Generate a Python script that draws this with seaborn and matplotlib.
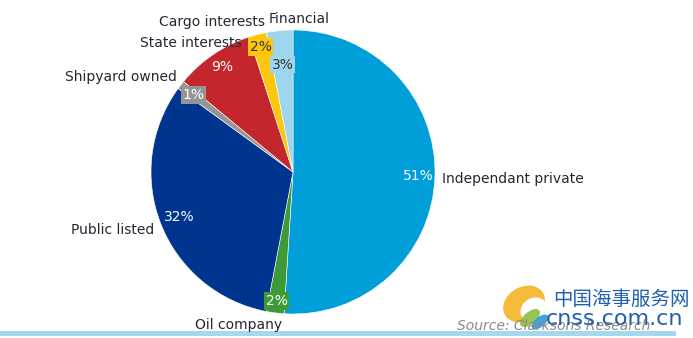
import matplotlib
matplotlib.use("Agg")
import matplotlib.pyplot as plt
import seaborn as sns
import numpy as np
from matplotlib.patches import Ellipse, Rectangle

# ---- data ----
categories = ["Independant private", "Oil company", "Public listed", "Shipyard owned",
              "State interests", "Cargo interests", "Financial"]
shares = [51, 2, 32, 1, 9, 2, 3]
pct_labels = ["51%", "2%", "32%", "1%", "9%", "2%", "3%"]

colors = ["#009FDA", "#3E9A37", "#00358F", "#959595", "#C4262E", "#FDC70C", "#9DD5EE"]
pct_colors = ["white", "white", "white", "white", "white", "#333333", "#333333"]
pct_box = [False, True, False, True, False, True, True]
pct_dist = [0.88, 0.915, 0.86, 0.885, 0.89, 0.91, 0.76]

sns.set_theme(style="white")
plt.rcParams['font.family'] = ['DejaVu Sans', 'Noto Sans CJK SC']

W, H = 693, 338
fig = plt.figure(figsize=(W / 100, H / 100), dpi=100)
cx, cy, r = 293, 172, 142
ax = fig.add_axes([(cx - r) / W, (H - cy - r) / H, 2 * r / W, 2 * r / H])

wedges, _ = ax.pie(shares, colors=colors, startangle=90, counterclock=False,
                   radius=1.0, wedgeprops=dict(linewidth=0.4, edgecolor="white"))
ax.set_xlim(-1, 1)
ax.set_ylim(-1, 1)
ax.set_aspect("equal")
ax.axis("off")

for w, lab, c, box, d, fc in zip(wedges, pct_labels, pct_colors, pct_box, pct_dist, colors):
    ang = np.deg2rad((w.theta1 + w.theta2) / 2)
    x, y = d * np.cos(ang), d * np.sin(ang)
    bbox = dict(boxstyle="square,pad=0.12", fc=fc, ec="none") if box else None
    ax.text(x, y, lab, ha="center", va="center", color=c, fontsize=10, bbox=bbox)

# outer category labels (figure pixel coordinates)
def ftext(px, py, s, ha="left", **kw):
    fig.text(px / W, 1 - py / H, s, ha=ha, va="center", fontsize=10, color="#262633", **kw)

ftext(442, 179, "Independant private")
ftext(239, 325, "Oil company", ha="center")
ftext(154, 230, "Public listed", ha="right")
ftext(177, 77, "Shipyard owned", ha="right")
ftext(242, 43, "State interests", ha="right")
ftext(212, 22, "Cargo interests", ha="center")
ftext(299, 19, "Financial", ha="center")

# source
fig.text(650 / W, 1 - 326 / H, "Source: Clarksons Research", ha="right", va="center",
         fontsize=10, color="#8a8a8a", style="italic")

# watermark
fig.text(553 / W, 1 - 299 / H, "中国海事服务网", ha="left", va="center", fontsize=14,
         color="#1f5fae", family=["Noto Sans CJK SC", "DejaVu Sans"])
fig.text(546 / W, 1 - 319 / H, "cnss.com.cn", ha="left", va="center", fontsize=16,
         color="#1f5fae", family=["DejaVu Sans"])
ov = fig.add_axes([0, 0, 1, 1], zorder=-1)
ov.set_xlim(0, W)
ov.set_ylim(H, 0)
ov.axis("off")
ov.add_patch(Ellipse((524, 304), 44, 34, angle=-30, fc="#F5B323", ec="none", alpha=0.9))
ov.add_patch(Ellipse((534, 310), 28, 24, angle=-30, fc="white", ec="none"))
ov.add_patch(Ellipse((530, 318), 24, 12, angle=-40, fc="#8DBE3F", ec="none", alpha=0.9))
ov.add_patch(Ellipse((540, 322), 20, 10, angle=-40, fc="#2E9AD6", ec="none", alpha=0.9))
ov.add_patch(Rectangle((0, 331), 676, 5, fc="#A3D8EF", ec="none"))

fig.savefig("out.png", dpi=100, facecolor="white")
